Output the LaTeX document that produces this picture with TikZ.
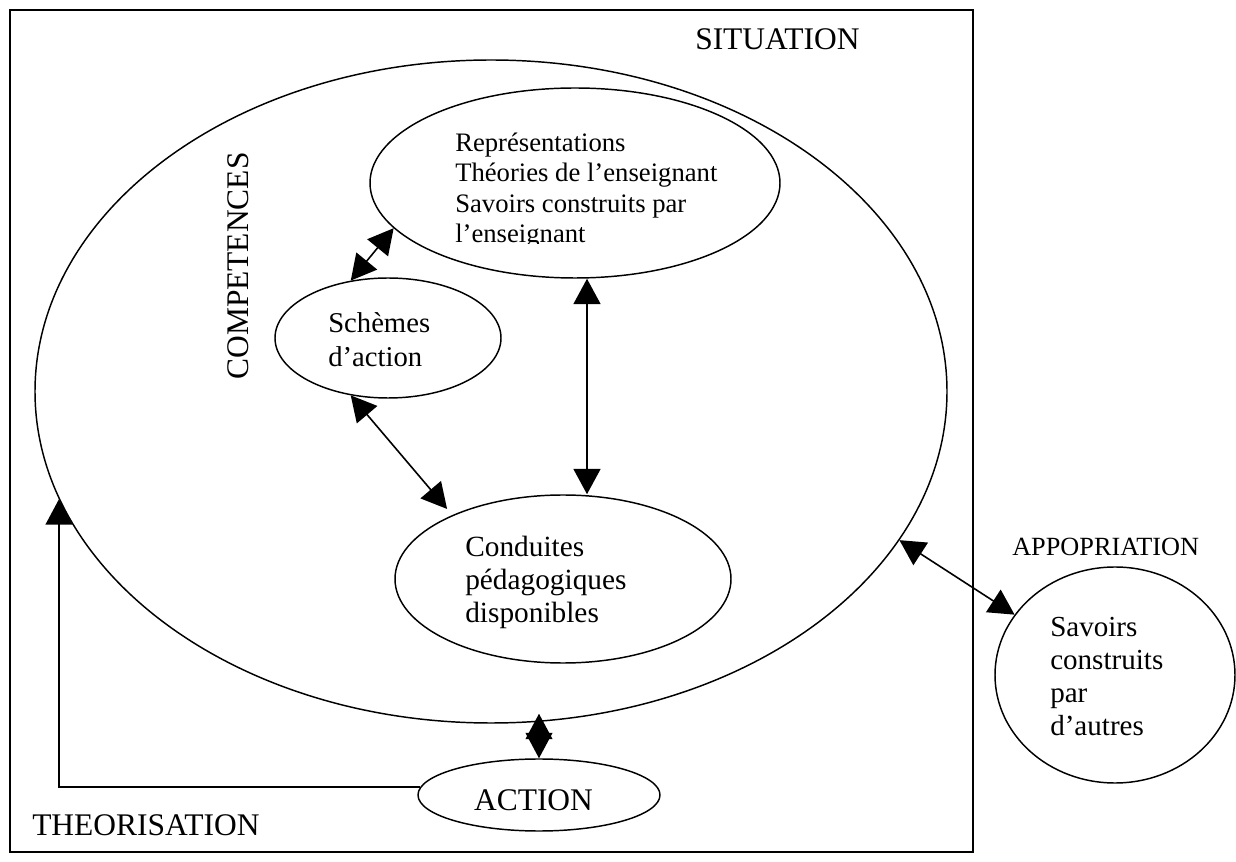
\documentclass[tikz,border=0pt]{standalone}
\usepackage{fontspec}
\setmainfont{Liberation Serif}
\usetikzlibrary{shapes.geometric,arrows.meta,calc}
\begin{document}
\begin{tikzpicture}[x=0.75pt,y=-0.75pt,
  oval/.style={draw, ellipse, line width=1.1pt, inner sep=0pt},
  txt/.style={inner sep=0pt, align=left},
  head/.tip={Triangle[length=19pt,width=20pt]},
  link/.style={{head}-{head}, line width=1.2pt},
  onelink/.style={-{head}, line width=1.2pt}]
\useasboundingbox (0,0) rectangle (1236,862);

% outer frame: the situation
\draw[line width=1.7pt] (10,10) rectangle (973,852);

% ovals
\node[oval, minimum width={912*0.75pt}, minimum height={663*0.75pt}] (big) at (491,391.5) {};
\node[oval, minimum width={410*0.75pt}, minimum height={190*0.75pt}] (rep) at (575,183) {};
\node[oval, minimum width={226*0.75pt}, minimum height={120*0.75pt}] (sch) at (388,338) {};
\node[oval, minimum width={336*0.75pt}, minimum height={168*0.75pt}] (cond) at (563,579) {};
\node[oval, minimum width={242*0.75pt}, minimum height={72*0.75pt}] (act) at (539,795) {};
\node[oval, minimum width={240*0.75pt}, minimum height={216*0.75pt}] (sav) at (1115,675) {};

% texts inside the ovals (base anchor = baseline of the last line)
\begin{scope}
  \clip (0,0) rectangle (1236,244);
  \node[txt, font=\fontsize{20}{22.9}\selectfont, anchor=base west] (reptext) at (455,243)
    {Représentations\\Théories de l’enseignant\\Savoirs construits par\\l’enseignant};
\end{scope}
\node[txt, font=\fontsize{21.5}{25.5}\selectfont, anchor=base west] (schtext) at (328,367)
  {Schèmes\\d’action};
\node[txt, font=\fontsize{22}{24.75}\selectfont, anchor=base west] (condtext) at (465,623)
  {Conduites\\pédagogiques\\disponibles};
\node[txt, font=\fontsize{21.8}{24.75}\selectfont, anchor=base west] (savtext) at (1050,735)
  {Savoirs\\construits\\par\\d’autres};
\node[txt, font=\fontsize{23.6}{26}\selectfont, anchor=base] (acttext) at (533.5,810) {ACTION};

% labels
\node[txt, font=\fontsize{23.6}{26}\selectfont, anchor=base west] (situation) at (695,50) {SITUATION};
\node[txt, font=\fontsize{23.6}{26}\selectfont, rotate=90] (competences) at (238,266) {COMPETENCES};
\node[txt, font=\fontsize{23.6}{26}\selectfont, anchor=base west] (theorisation) at (32,835) {THEORISATION};
\node[txt, font=\fontsize{19.7}{22}\selectfont, anchor=base west] (appropriation) at (1012,556) {APPOPRIATION};

% connectors
\coordinate (vx) at (587,0);
\draw[link] (rep.194.85) -- (sch.123.9);
\draw[link, line width=2pt] (rep.south -| vx) -- (cond.north -| vx);
\draw[link, shorten >=6pt] (sch.237.4) -- (cond.150);
\draw[link] ($(big.south -| act.north)+(0,-10)$) -- (act.north);
\draw[link] (big.-20.65) -- (sav.149.1);
\draw[onelink] (act.176) -| (big.194.07);
\end{tikzpicture}
\end{document}
